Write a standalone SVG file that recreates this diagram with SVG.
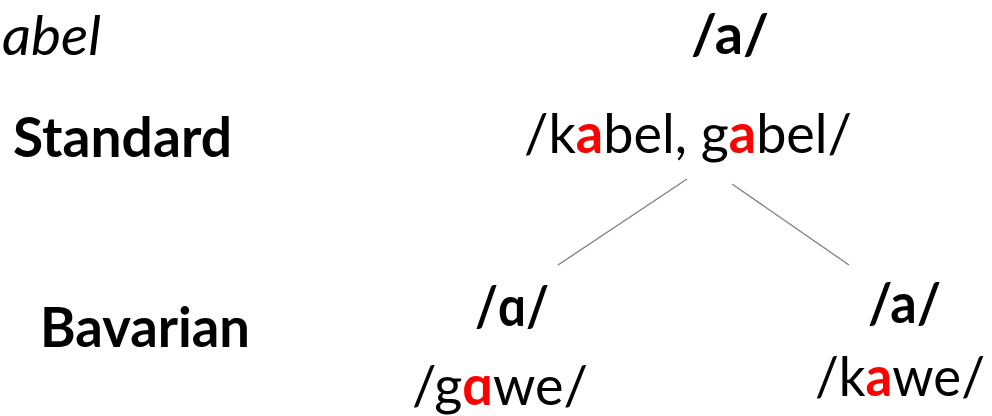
<svg xmlns="http://www.w3.org/2000/svg" width="992" height="416" viewBox="0 0 992 416">
<style>
text{font-family:Lato,"Open Sans","Liberation Sans",sans-serif;font-size:55px;fill:#000}
.b{font-weight:bold}
.i{font-style:italic}
.r{font-weight:bold;fill:#ff0000}
.ln{stroke:#808080;stroke-width:1.3;fill:none}
</style>
<rect width="992" height="416" fill="#ffffff"/>
<g id="label-abel"><text class="i" x="2" y="55" textLength="99" lengthAdjust="spacingAndGlyphs">abel</text></g>
<g id="label-standard"><text class="b" x="13" y="157" textLength="219" lengthAdjust="spacingAndGlyphs">Standard</text></g>
<g id="label-bavarian"><text class="b" x="40" y="347" textLength="210" lengthAdjust="spacingAndGlyphs">Bavarian</text></g>
<g id="node-top">
<text class="b" x="691" y="54" textLength="78" lengthAdjust="spacingAndGlyphs">/a/</text>
<text x="524" y="153" textLength="328" lengthAdjust="spacingAndGlyphs">/k<tspan class="r">a</tspan>bel, g<tspan class="r">a</tspan>bel/</text>
</g>
<g id="node-left">
<text class="b" x="475" y="326" textLength="74" lengthAdjust="spacingAndGlyphs">/ɑ/</text>
<text x="412" y="405" textLength="176" lengthAdjust="spacingAndGlyphs">/g<tspan class="r">ɑ</tspan>we/</text>
</g>
<g id="node-right">
<text class="b" x="868" y="323" textLength="73" lengthAdjust="spacingAndGlyphs">/a/</text>
<text x="815" y="396" textLength="170" lengthAdjust="spacingAndGlyphs">/k<tspan class="r">a</tspan>we/</text>
</g>
<g id="connectors">
<line class="ln" x1="687" y1="179" x2="558" y2="265"/>
<line class="ln" x1="732" y1="184" x2="849" y2="265"/>
</g>
</svg>
